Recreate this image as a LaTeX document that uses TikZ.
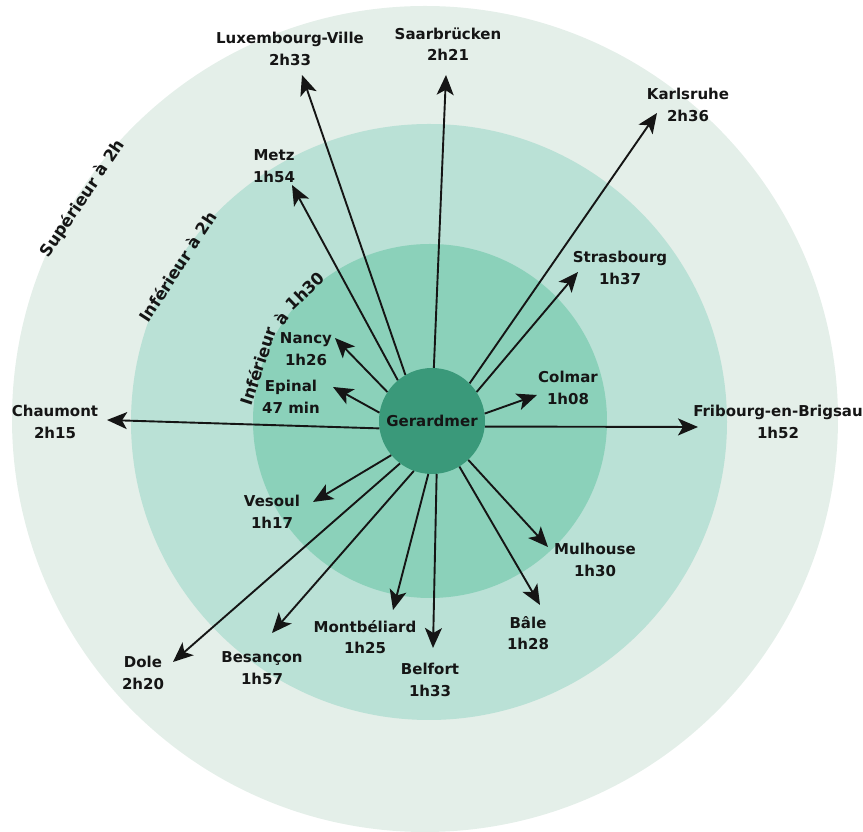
\documentclass[tikz,border=0pt]{standalone}
\usepackage{fontspec}
\setmainfont{DejaVu Sans}
\usetikzlibrary{arrows.meta}
\definecolor{ringA}{HTML}{E4EFE9}
\definecolor{ringB}{HTML}{BAE1D6}
\definecolor{ringC}{HTML}{8BD1BA}
\definecolor{discC}{HTML}{3A997A}
\definecolor{ink}{HTML}{151515}
\begin{document}
\begin{tikzpicture}[x=1pt,y=1pt,
  arr/.style={draw=ink, line width=1.9pt, -{Stealth[length=20pt,width=17pt,inset=5pt]}},
  lbl/.style={align=center, inner sep=0pt, text=ink, font=\bfseries\fontsize{15}{21.5}\selectfont},
  ringlbl/.style={inner sep=0pt, anchor=base, text=ink, font=\bfseries\fontsize{16.5}{16.5}\selectfont},
  disc/.style={circle, fill=discC, minimum size=106pt, inner sep=0pt, text=ink, font=\bfseries\fontsize{15}{15}\selectfont}]
\useasboundingbox (0,0) rectangle (863,832);
\clip (0,0) rectangle (863,832);
% rings
\fill[ringA] (425,413) circle[radius=413];
\fill[ringB] (429,410) circle[radius=298];
\fill[ringC] (430,411) circle[radius=177];
% ring labels
\path (425,411) ++(147:403) node[ringlbl, rotate=56] (rsup) {Supérieur à 2h};
\path (429,408) ++(148:290) node[ringlbl, rotate=57] (rinf2) {Inférieur à 2h};
\path (430,411) ++(162.3:174) node[ringlbl, rotate=72] (rinfa) {Inférieur};
\path (430,411) ++(145.2:174) node[ringlbl, rotate=55] (rinfb) {à};
\path (430,411) ++(133.9:174) node[ringlbl, rotate=44] (rinfc) {1h30};
% tips
\coordinate (tlux) at (302,757);
\coordinate (tsaar) at (446,757);
\coordinate (tkarl) at (657,719);
\coordinate (tmetz) at (292,647);
\coordinate (tstras) at (578,560);
\coordinate (tnancy) at (335,494);
\coordinate (tepinal) at (333,445);
\coordinate (tchau) at (107,412);
\coordinate (tfrib) at (698,405);
\coordinate (tcolmar) at (537,437);
\coordinate (tvesoul) at (313,330);
\coordinate (tdole) at (173,170);
\coordinate (tbesan) at (272,199);
\coordinate (tmontb) at (393,222);
\coordinate (tbelfort) at (433,184);
\coordinate (tbale) at (540,227);
\coordinate (tmulh) at (548,285);
% labels
\node[lbl] (llux) at (290,783) {Luxembourg-Ville\\2h33};
\node[lbl] (lsaar) at (448,788) {Saarbrücken\\2h21};
\node[lbl] (lkarl) at (688,727) {Karlsruhe\\2h36};
\node[lbl] (lmetz) at (274,666) {Metz\\1h54};
\node[lbl] (lstras) at (620,564) {Strasbourg\\1h37};
\node[lbl] (lnancy) at (306,483) {Nancy\\1h26};
\node[lbl] (lepinal) at (291,435) {Epinal\\47 min};
\node[lbl] (lchau) at (55,410) {Chaumont\\2h15};
\node[lbl] (lcolmar) at (568,444) {Colmar\\1h08};
\node[lbl] (lfrib) at (778,410) {Fribourg-en-Brigsau\\1h52};
\node[lbl] (lvesoul) at (272,320) {Vesoul\\1h17};
\node[lbl] (ldole) at (143,159) {Dole\\2h20};
\node[lbl] (lbesan) at (262,164) {Besançon\\1h57};
\node[lbl] (lmontb) at (365,195) {Montbéliard\\1h25};
\node[lbl] (lbelfort) at (430,152) {Belfort\\1h33};
\node[lbl] (lmulh) at (595,272) {Mulhouse\\1h30};
\node[lbl] (lbale) at (528,199) {Bâle\\1h28};
% centre
\node[disc] (g) at (432,411) {Gerardmer};
% arrows
\draw[arr] (g.120) -- (tlux);
\draw[arr] (g.88) -- (tsaar);
\draw[arr] (g.45) -- (tkarl);
\draw[arr] (g.130) -- (tmetz);
\draw[arr] (g.33) -- (tstras);
\draw[arr] (g.147) -- (tnancy);
\draw[arr] (g.171) -- (tepinal);
\draw[arr] (g.188) -- (tchau);
\draw[arr] (g.354) -- (tfrib);
\draw[arr] (g.8) -- (tcolmar);
\draw[arr] (g.220) -- (tvesoul);
\draw[arr] (g.233) -- (tdole);
\draw[arr] (g.250) -- (tbesan);
\draw[arr] (g.266) -- (tmontb);
\draw[arr] (g.275) -- (tbelfort);
\draw[arr] (g.301) -- (tbale);
\draw[arr] (g.313) -- (tmulh);
\end{tikzpicture}
\end{document}
